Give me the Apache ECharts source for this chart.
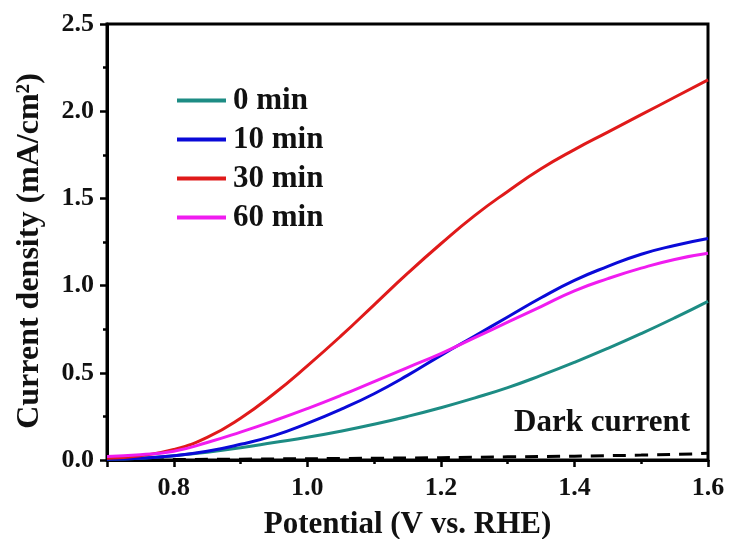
<!DOCTYPE html>
<html>
<head>
<meta charset="utf-8">
<script src="https://cdn.jsdelivr.net/npm/echarts@6/dist/echarts.min.js"></script>
<style>html,body{margin:0;padding:0;background:#fff;}#chart{width:730px;height:539px;}</style>
</head>
<body>
<div id="chart"></div>
<script>
// Potential (V vs. RHE)
const potential = [0.70,0.75,0.80,0.85,0.90,0.95,1.00,1.05,1.10,1.15,1.20,1.25,1.30,1.35,1.40,1.45,1.50,1.55,1.60];
// Current density (mA/cm2)
const min0  = [0.005,0.01,0.025,0.045,0.07,0.10,0.13,0.165,0.205,0.25,0.30,0.355,0.415,0.485,0.56,0.64,0.725,0.815,0.91];
const min10 = [0.005,0.01,0.025,0.05,0.09,0.14,0.21,0.29,0.38,0.485,0.60,0.71,0.82,0.93,1.03,1.11,1.18,1.23,1.27];
const min30 = [0.01,0.025,0.06,0.13,0.24,0.38,0.54,0.71,0.89,1.07,1.24,1.40,1.54,1.67,1.78,1.88,1.98,2.08,2.18];
const min60 = [0.02,0.03,0.05,0.10,0.16,0.225,0.295,0.37,0.45,0.53,0.61,0.70,0.79,0.88,0.97,1.04,1.10,1.15,1.185];
const darkPotential = [0.70,0.90,1.10,1.30,1.50,1.60];
const dark = [0.0,0.005,0.01,0.018,0.028,0.038];

const seriesNames = ['0 min','10 min','30 min','60 min'];
const seriesColors = ['#1d8c84','#0a0ad8','#e01a1a','#f01cf0'];
const seriesValues = [min0, min10, min30, min60];

const font = 'Liberation Serif';
const chart = echarts.init(document.getElementById('chart'));

const series = seriesNames.map((n,i)=>({
  name: n, type: 'line', smooth: true, symbol: 'none',
  data: potential.map((x,j)=>[x, seriesValues[i][j]]),
  lineStyle: {color: seriesColors[i], width: 3},
  itemStyle: {color: seriesColors[i]},
  z: 3 + i
}));
series.unshift({
  name: 'Dark current', type: 'line', smooth: true, symbol: 'none',
  data: darkPotential.map((x,j)=>[x, dark[j]]),
  lineStyle: {color: '#000', width: 3, type: [13, 9]},
  z: 2
});

chart.setOption({
  animation: false,
  backgroundColor: '#fff',
  grid: {left: 107, right: 22, top: 24, bottom: 79, outerBoundsMode: 'none', containLabel: false,
    show: true, borderColor: '#000', borderWidth: 3, backgroundColor: 'transparent'},
  xAxis: {
    type: 'value', min: 0.7, max: 1.6, splitNumber: 5,
    name: 'Potential (V vs. RHE)', nameLocation: 'middle', nameGap: 49,
    nameTextStyle: {fontFamily: font, fontWeight: 'bold', fontSize: 31, color: '#111'},
    axisLine: {lineStyle: {color: '#000', width: 3}},
    axisTick: {inside: false, length: 7, lineStyle: {color: '#000', width: 2.5}},
    minorTick: {show: true, splitNumber: 2, length: 4, lineStyle: {color: '#000', width: 2.5}},
    splitLine: {show: false},
    axisLabel: {margin: 15, fontFamily: font, fontWeight: 'bold', fontSize: 26, color: '#111',
      formatter: v => (Math.abs(v*10 - Math.round(v*10)) < 1e-6 && Math.round(v*10) % 2 === 0) ? v.toFixed(1) : ''}
  },
  yAxis: {
    type: 'value', min: 0, max: 2.5, interval: 0.5,
    name: 'Current density (mA/cm²)', nameLocation: 'middle', nameGap: 61,
    nameTextStyle: {fontFamily: font, fontWeight: 'bold', fontSize: 32, color: '#111', padding: [0, 18, 0, 0]},
    axisLine: {show: true, lineStyle: {color: '#000', width: 3}},
    axisTick: {show: true, inside: false, length: 7, lineStyle: {color: '#000', width: 2.5}},
    minorTick: {show: true, splitNumber: 2, length: 4, lineStyle: {color: '#000', width: 2.5}},
    splitLine: {show: false},
    axisLabel: {margin: 13, fontFamily: font, fontWeight: 'bold', fontSize: 26, color: '#111',
      formatter: v => v.toFixed(1)}
  },
  legend: {
    data: seriesNames, orient: 'vertical', left: 172, top: 80,
    icon: 'rect', itemWidth: 49, itemHeight: 4, itemGap: 8,
    textStyle: {fontFamily: font, fontWeight: 'bold', fontSize: 31, color: '#111', lineHeight: 30, padding: [0,0,0,2]}
  },
  graphic: [{
    type: 'text', right: 40, top: 407, z: 10,
    style: {text: 'Dark current', fontFamily: font, fontWeight: 'bold', fontSize: 31, fill: '#111'}
  }],
  series: series
});
</script>
</body>
</html>
